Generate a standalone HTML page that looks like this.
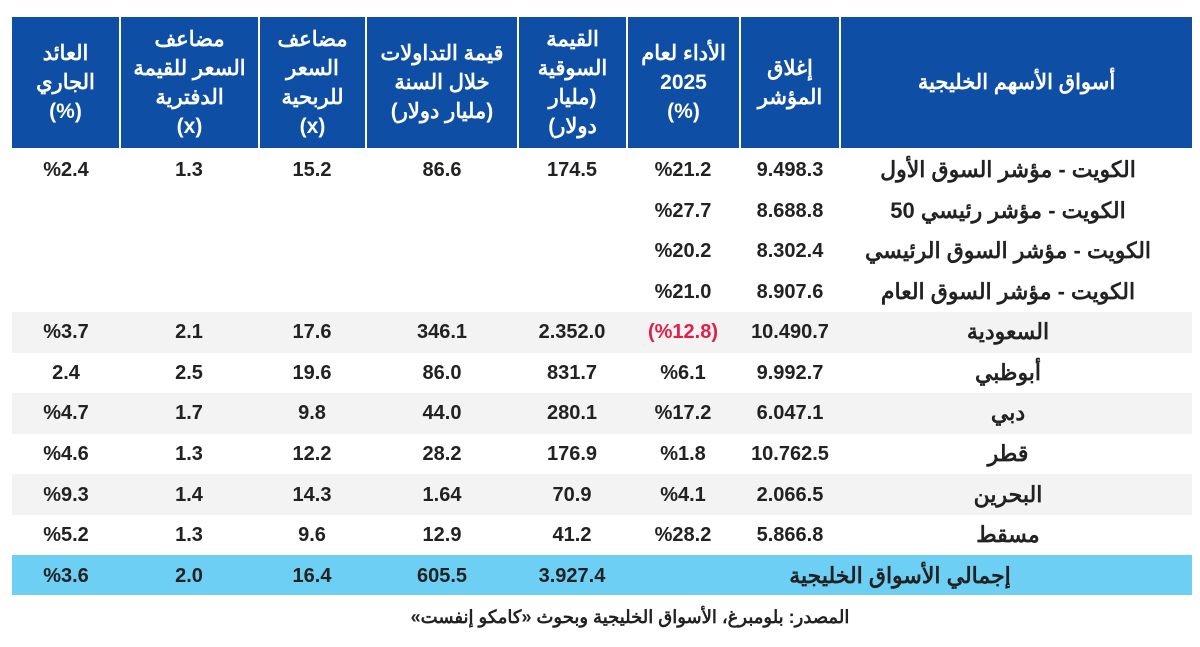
<!DOCTYPE html>
<html><head><meta charset="utf-8"><style>
body{margin:0;width:1200px;height:647px;background:#fff;position:relative;overflow:hidden;font-family:"Liberation Sans","Noto Sans CJK SC",sans-serif}
.h{position:absolute;top:17px;height:131px;background:#0e4fa5;color:#fff;font-weight:bold;font-size:21px;line-height:29px;display:flex;align-items:center;justify-content:center;text-align:center;direction:rtl}
.r{position:absolute;left:12px;width:1180px;height:41px}
.c{position:absolute;font-weight:bold;font-size:20px;color:#222;text-align:center;line-height:20px}
.n{direction:rtl;font-size:22px}
</style></head><body>
<div class="h" style="left:12px;width:107px">العائد<br>الجاري<br>(%)</div>
<div class="h" style="left:121px;width:137px">مضاعف<br>السعر للقيمة<br>الدفترية<br>(x)</div>
<div class="h" style="left:260px;width:105px">مضاعف<br>السعر<br>للربحية<br>(x)</div>
<div class="h" style="left:367px;width:150px">قيمة التداولات<br>خلال السنة<br>(مليار دولار)</div>
<div class="h" style="left:519px;width:107px">القيمة<br>السوقية<br>(مليار<br>دولار)</div>
<div class="h" style="left:628px;width:111px">الأداء لعام<br>2025<br>(%)</div>
<div class="h" style="left:741px;width:98px">إغلاق<br>المؤشر</div>
<div class="h" style="left:841px;width:351px">أسواق الأسهم الخليجية</div>
<div class="r" style="top:312px;background:#f3f3f3"></div>
<div class="r" style="top:393px;background:#f3f3f3"></div>
<div class="r" style="top:474px;background:#f3f3f3"></div>
<div class="r" style="top:555px;height:40px;background:#6dcff4"></div>
<div id="t"></div>
<div style="position:absolute;top:607px;left:330px;width:600px;text-align:center;font-weight:bold;font-size:18px;color:#222;direction:rtl">المصدر: بلومبرغ، الأسواق الخليجية وبحوث «كامكو إنفست»</div>
<script>
var X=[66,189,312,442,572,683,790,1008];
var R=[
[170,"%2.4","1.3","15.2","86.6","174.5","%21.2","9.498.3","الكويت - مؤشر السوق الأول"],
[211,"","","","","","%27.7","8.688.8","الكويت - مؤشر رئيسي 50"],
[251,"","","","","","%20.2","8.302.4","الكويت - مؤشر السوق الرئيسي"],
[292,"","","","","","%21.0","8.907.6","الكويت - مؤشر السوق العام"],
[332,"%3.7","2.1","17.6","346.1","2.352.0","(%12.8)","10.490.7","السعودية"],
[373,"2.4","2.5","19.6","86.0","831.7","%6.1","9.992.7","أبوظبي"],
[413,"%4.7","1.7","9.8","44.0","280.1","%17.2","6.047.1","دبي"],
[454,"%4.6","1.3","12.2","28.2","176.9","%1.8","10.762.5","قطر"],
[495,"%9.3","1.4","14.3","1.64","70.9","%4.1","2.066.5","البحرين"],
[535,"%5.2","1.3","9.6","12.9","41.2","%28.2","5.866.8","مسقط"],
[576,"%3.6","2.0","16.4","605.5","3.927.4","","",""]];
var h="";
R.forEach(function(r){for(var i=0;i<8;i++){if(!r[i+1])continue;var col=(r[i+1]=="(%12.8)")?"#e0204a":"#222";
h+='<div class="c'+(i==7?' n':'')+'" style="left:'+(X[i]-170)+'px;width:340px;top:'+(r[0]-10)+'px;color:'+col+'">'+r[i+1]+'</div>';}});
h+='<div class="c n" style="left:740px;width:320px;top:566px">إجمالي الأسواق الخليجية</div>';
document.getElementById("t").innerHTML=h;
</script>
</body></html>
